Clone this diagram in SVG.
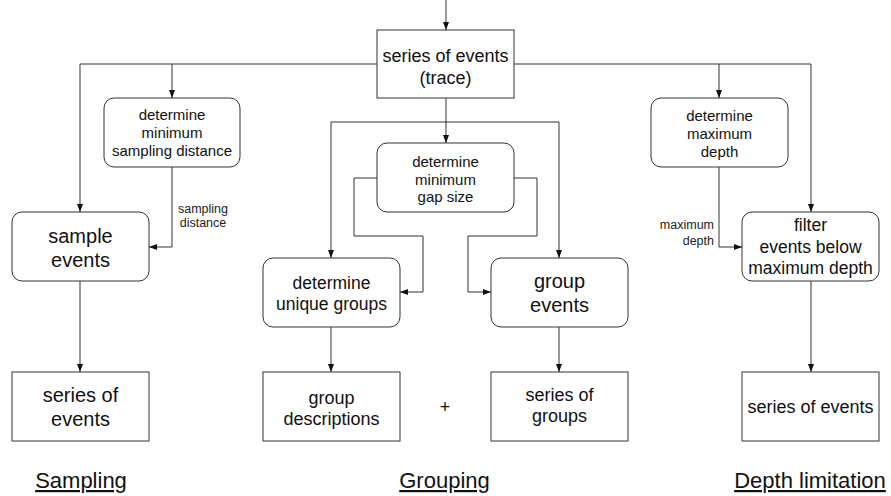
<svg xmlns="http://www.w3.org/2000/svg" width="891" height="496" viewBox="0 0 891 496">
<style>
  .box { fill: #ffffff; stroke: #333333; stroke-width: 1; }
  .t { font-family: "Liberation Sans", Arial, sans-serif; fill: #111111; text-anchor: middle; }
  .lbl { font-family: "Liberation Sans", Arial, sans-serif; fill: #222222; font-size: 12.5px; }
  .sec { font-family: "Liberation Sans", Arial, sans-serif; fill: #111111; font-size: 22px; text-anchor: middle; text-decoration: underline; }
  .c { fill: none; stroke: #333333; stroke-width: 1; }
  .a { marker-end: url(#arr); }
</style>
<defs>
  <marker id="arr" viewBox="0 0 8 6" markerWidth="8" markerHeight="6" refX="8" refY="3" orient="auto" markerUnits="userSpaceOnUse">
    <path d="M0,0 L8,3 L0,6 Z" fill="#111111"/>
  </marker>
</defs>
<rect width="891" height="496" fill="#ffffff"/>

<g id="connectors">
  <path class="c a" d="M446,0 V30"/>
  <path class="c a" d="M377,64 H80 V212"/>
  <path class="c a" d="M172,64 V98"/>
  <path class="c a" d="M514,64 H811 V212"/>
  <path class="c a" d="M719,64 V98"/>
  <path class="c a" d="M446,98 V143"/>
  <path class="c a" d="M446,122 H331 V258"/>
  <path class="c a" d="M446,122 H559 V258"/>
  <path class="c a" d="M377,178 H354 V236 H423 V292 H400"/>
  <path class="c a" d="M514,178 H537 V236 H468 V292 H491"/>
  <path class="c a" d="M172,167 V247 H149"/>
  <path class="c a" d="M719,167 V247 H742"/>
  <path class="c a" d="M80,281 V372"/>
  <path class="c a" d="M331,327 V372"/>
  <path class="c a" d="M559,327 V372"/>
  <path class="c a" d="M811,281 V372"/>
  <text class="lbl" text-anchor="middle" x="203" y="213">sampling</text>
  <text class="lbl" text-anchor="middle" x="203" y="227">distance</text>
  <text class="lbl" text-anchor="end" x="714" y="229">maximum</text>
  <text class="lbl" text-anchor="end" x="714" y="245">depth</text>
</g>

<g id="trace">
  <rect class="box" x="377" y="30" width="137" height="68"/>
  <text class="t" font-size="18" x="445.5" y="61.5">series of events</text>
  <text class="t" font-size="18" x="445.5" y="83.5">(trace)</text>
</g>

<g id="min-sampling">
  <rect class="box" x="104" y="98" width="136" height="69" rx="10"/>
  <text class="t" font-size="15" x="172" y="120">determine</text>
  <text class="t" font-size="15" x="172" y="138">minimum</text>
  <text class="t" font-size="15" x="172" y="156">sampling distance</text>
</g>

<g id="sample-events">
  <rect class="box" x="12" y="212" width="137" height="69" rx="10"/>
  <text class="t" font-size="20" x="80.5" y="243">sample</text>
  <text class="t" font-size="20" x="80.5" y="267">events</text>
</g>

<g id="series-events-left">
  <rect class="box" x="12" y="372" width="137" height="69"/>
  <text class="t" font-size="20" x="80.5" y="402">series of</text>
  <text class="t" font-size="20" x="80.5" y="426">events</text>
</g>

<g id="min-gap">
  <rect class="box" x="377" y="143" width="137" height="69" rx="10"/>
  <text class="t" font-size="15" x="445.5" y="167">determine</text>
  <text class="t" font-size="15" x="445.5" y="185">minimum</text>
  <text class="t" font-size="15" x="445.5" y="202">gap size</text>
</g>

<g id="unique-groups">
  <rect class="box" x="263" y="258" width="137" height="69" rx="10"/>
  <text class="t" font-size="17.5" x="331.5" y="289">determine</text>
  <text class="t" font-size="17.5" x="331.5" y="310">unique groups</text>
</g>

<g id="group-events">
  <rect class="box" x="491" y="258" width="137" height="69" rx="10"/>
  <text class="t" font-size="20" x="559.5" y="288">group</text>
  <text class="t" font-size="20" x="559.5" y="312">events</text>
</g>

<g id="group-descriptions">
  <rect class="box" x="263" y="372" width="137" height="69"/>
  <text class="t" font-size="18" x="331.5" y="403.5">group</text>
  <text class="t" font-size="18" x="331.5" y="424.5">descriptions</text>
</g>

<g id="plus">
  <text class="t" font-size="18" x="445" y="413">+</text>
</g>

<g id="series-groups">
  <rect class="box" x="491" y="372" width="137" height="69"/>
  <text class="t" font-size="18" x="559.5" y="401">series of</text>
  <text class="t" font-size="18" x="559.5" y="422">groups</text>
</g>

<g id="max-depth">
  <rect class="box" x="651" y="98" width="137" height="69" rx="10"/>
  <text class="t" font-size="15" x="719.5" y="121">determine</text>
  <text class="t" font-size="15" x="719.5" y="139">maximum</text>
  <text class="t" font-size="15" x="719.5" y="157">depth</text>
</g>

<g id="filter">
  <rect class="box" x="742" y="212" width="137" height="69" rx="10"/>
  <text class="t" font-size="17.5" x="810.5" y="231">filter</text>
  <text class="t" font-size="17.5" x="810.5" y="253">events below</text>
  <text class="t" font-size="17.5" x="810.5" y="274">maximum depth</text>
</g>

<g id="series-events-right">
  <rect class="box" x="742" y="372" width="137" height="69"/>
  <text class="t" font-size="18" x="810.5" y="413">series of events</text>
</g>

<g id="section-labels">
  <text class="sec" x="81" y="488">Sampling</text>
  <text class="sec" x="444.5" y="488">Grouping</text>
  <text class="sec" x="810" y="488">Depth limitation</text>
</g>
</svg>
